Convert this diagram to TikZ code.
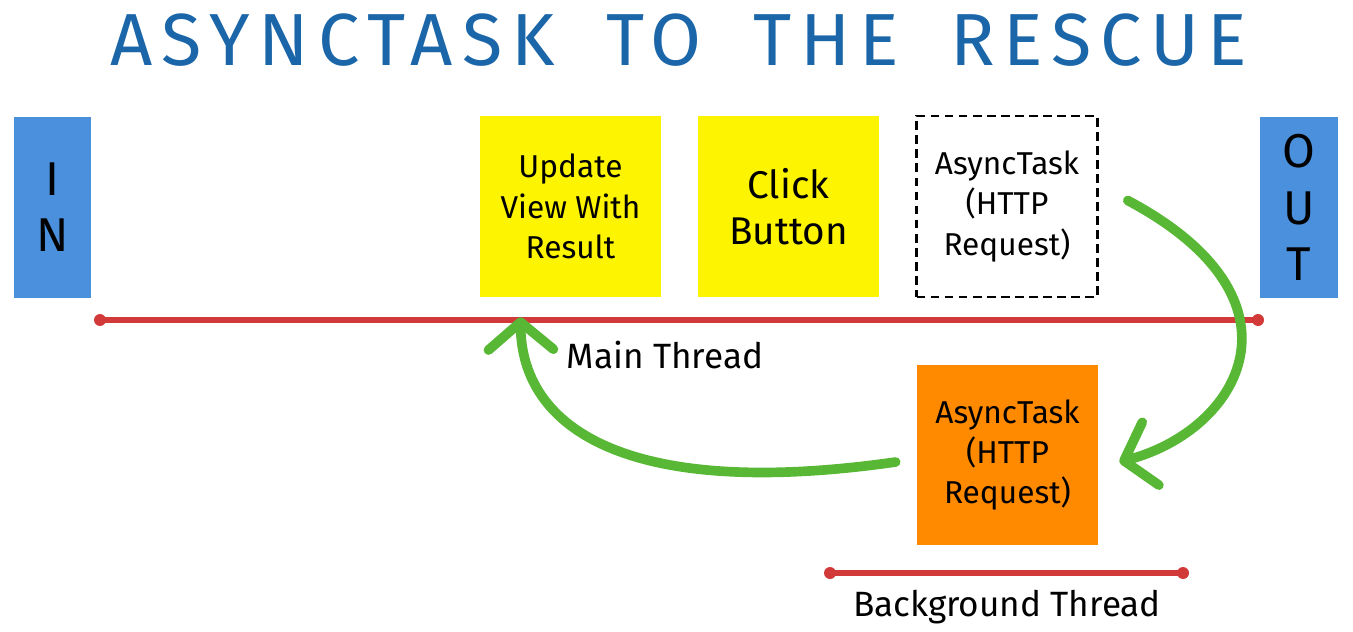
\documentclass[tikz,border=0pt]{standalone}
\usepackage{fontspec}
\setmainfont{Fira Sans}
\newfontfamily\titlefont[LetterSpace=12]{Fira Sans}
\usetikzlibrary{arrows.meta,calc}
\definecolor{titleblue}{HTML}{1B66A8}
\definecolor{ioblue}{HTML}{4A90DC}
\definecolor{noteyellow}{HTML}{FCF400}
\definecolor{noteorange}{HTML}{FF8A00}
\definecolor{threadred}{HTML}{D23A3A}
\definecolor{flowgreen}{HTML}{58B835}

\begin{document}
\begin{tikzpicture}[x=0.02cm,y=-0.02cm,
    note/.style={minimum width=3.62cm,minimum height=3.62cm,inner sep=0pt,align=center,
      font=\fontsize{18}{23}\selectfont},
    io/.style={fill=ioblue,minimum width=1.56cm,minimum height=3.62cm,inner sep=0pt,align=center,
      font=\fontsize{27}{32}\selectfont},
    thread/.style={draw=threadred,line width=3.2pt,line cap=round},
    flow/.style={draw=flowgreen,line width=5.5pt,line cap=round,
      -{Straight Barb[round,length=0.55cm,width=1.3cm]}}]
    \useasboundingbox (0,0) rectangle (1353,632);

    \node (title) at (679,40) {\titlefont\fontsize{42}{46}\selectfont\color{titleblue}ASYNCTASK\hspace{0.7em}TO\hspace{0.7em}THE\hspace{0.7em}RESCUE};

    \node[io] (in) at (52.5,207.5) {I\\N};
    \node[io] (out) at (1299,207.5) {O\\U\\T};

    \node[note,fill=noteyellow] (upd) at (570.5,206.5) {Update\\View With\\Result};
    \node[note,fill=noteyellow,font=\fontsize{22}{26}\selectfont] (click) at (788.5,206.5) {Click\\Button};
    \node[note,draw,dash pattern=on 5pt off 3pt,line width=1.5pt] (req) at (1007,206.5) {AsyncTask\\(HTTP\\Request)};
    \node[note,fill=noteorange] (bg) at (1007.5,455) {AsyncTask\\(HTTP\\Request)};

    \coordinate (mainL) at (100,320);
    \coordinate (mainR) at (1258,320);
    \coordinate (bgL) at (830,573);
    \coordinate (bgR) at (1183,573);
    \draw[thread] (mainL) -- (mainR);
    \draw[thread] (bgL) -- (bgR);
    \foreach \p in {mainL,mainR,bgL,bgR}
      \fill[threadred] (\p) circle[radius=0.12cm];

    \node[font=\fontsize{20}{24}\selectfont] (mainlbl) at (665,355) {Main Thread};
    \node[font=\fontsize{20}{24}\selectfont] (bglbl) at (1007,607) {Background Thread};

    \draw[flow] ($(req.east)+(29,-6)$) .. controls (1315,300) and (1240,430) .. ($(bg.east)+(21,7)$);
    \draw[flow] ($(bg.west)+(-21,7)$) .. controls (630,500) and (522,430) .. ($(upd.south)+(-50,20)$);
\end{tikzpicture}
\end{document}
